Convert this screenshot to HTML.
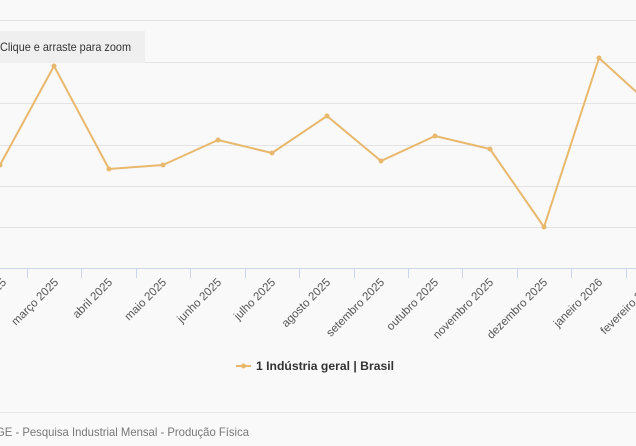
<!DOCTYPE html>
<html><head><meta charset="utf-8"><style>
html,body{margin:0;padding:0;background:#f9f9f9;width:636px;height:446px;overflow:hidden;font-family:"Liberation Sans",sans-serif}
</style></head><body>
<svg width="636" height="446" xmlns="http://www.w3.org/2000/svg" style="position:absolute;left:0;top:0">
<rect width="636" height="446" fill="#f9f9f9"/>
<g stroke="#e4e4e6" stroke-width="1">
<line x1="0" x2="636" y1="20.5" y2="20.5"/>
<line x1="0" x2="636" y1="62.5" y2="62.5"/>
<line x1="0" x2="636" y1="103.5" y2="103.5"/>
<line x1="0" x2="636" y1="145.5" y2="145.5"/>
<line x1="0" x2="636" y1="186.5" y2="186.5"/>
<line x1="0" x2="636" y1="227.5" y2="227.5"/>
</g>
<line x1="0" x2="636" y1="268.5" y2="268.5" stroke="#ccd6eb"/>
<g stroke="#ccd6eb">
<line x1="27.5" x2="27.5" y1="268" y2="278"/><line x1="81.5" x2="81.5" y1="268" y2="278"/>
<line x1="136.5" x2="136.5" y1="268" y2="278"/><line x1="190.5" x2="190.5" y1="268" y2="278"/>
<line x1="245.5" x2="245.5" y1="268" y2="278"/><line x1="299.5" x2="299.5" y1="268" y2="278"/>
<line x1="354.5" x2="354.5" y1="268" y2="278"/><line x1="408.5" x2="408.5" y1="268" y2="278"/>
<line x1="462.5" x2="462.5" y1="268" y2="278"/><line x1="517.5" x2="517.5" y1="268" y2="278"/>
<line x1="571.5" x2="571.5" y1="268" y2="278"/><line x1="626.5" x2="626.5" y1="268" y2="278"/>
</g>
<g font-size="11.5" fill="#555" text-anchor="end">
<text transform="translate(7,283) rotate(-45)">fevereiro 2025</text>
<text transform="translate(59,283) rotate(-45)">março 2025</text>
<text transform="translate(113,283) rotate(-45)">abril 2025</text>
<text transform="translate(167,283) rotate(-45)">maio 2025</text>
<text transform="translate(222,283) rotate(-45)">junho 2025</text>
<text transform="translate(276,283) rotate(-45)">julho 2025</text>
<text transform="translate(331,283) rotate(-45)">agosto 2025</text>
<text transform="translate(385,283) rotate(-45)">setembro 2025</text>
<text transform="translate(439,283) rotate(-45)">outubro 2025</text>
<text transform="translate(494,283) rotate(-45)">novembro 2025</text>
<text transform="translate(548,283) rotate(-45)">dezembro 2025</text>
<text transform="translate(603,283) rotate(-45)">janeiro 2026</text>
<text transform="translate(657,283) rotate(-45)">fevereiro 2026</text>
</g>
<polyline fill="none" stroke="#e8b86d" stroke-width="2" stroke-linejoin="round" points="0,165 54,66 109,169 163,165 218,140 272,153 327,116 381,161 435,136 490,149 544,227 599,58 654,108"/>
<g fill="#e8b86d">
<circle cx="0" cy="165" r="2.5"/><circle cx="54" cy="66" r="2.5"/><circle cx="109" cy="169" r="2.5"/>
<circle cx="163" cy="165" r="2.5"/><circle cx="218" cy="140" r="2.5"/><circle cx="272" cy="153" r="2.5"/>
<circle cx="327" cy="116" r="2.5"/><circle cx="381" cy="161" r="2.5"/><circle cx="435" cy="136" r="2.5"/>
<circle cx="490" cy="149" r="2.5"/><circle cx="544" cy="227" r="2.5"/><circle cx="599" cy="58" r="2.5"/>
</g>
<rect x="-5" y="31" width="150" height="32" fill="#efefef"/>
<text x="0" y="51" font-size="12" fill="#333" textLength="131" lengthAdjust="spacingAndGlyphs">Clique e arraste para zoom</text>
<line x1="236" x2="251" y1="366" y2="366" stroke="#e8b86d" stroke-width="2"/>
<circle cx="243.5" cy="366" r="2.5" fill="#e8b86d"/>
<text x="256" y="370" font-size="12" font-weight="bold" fill="#333" textLength="138" lengthAdjust="spacingAndGlyphs">1 Indústria geral | Brasil</text>
<line x1="0" x2="636" y1="412.5" y2="412.5" stroke="#e6e6e6"/>
<text x="-4" y="436" font-size="12" fill="#777" textLength="253" lengthAdjust="spacingAndGlyphs">GE - Pesquisa Industrial Mensal - Produção Física</text>
</svg>
</body></html>
